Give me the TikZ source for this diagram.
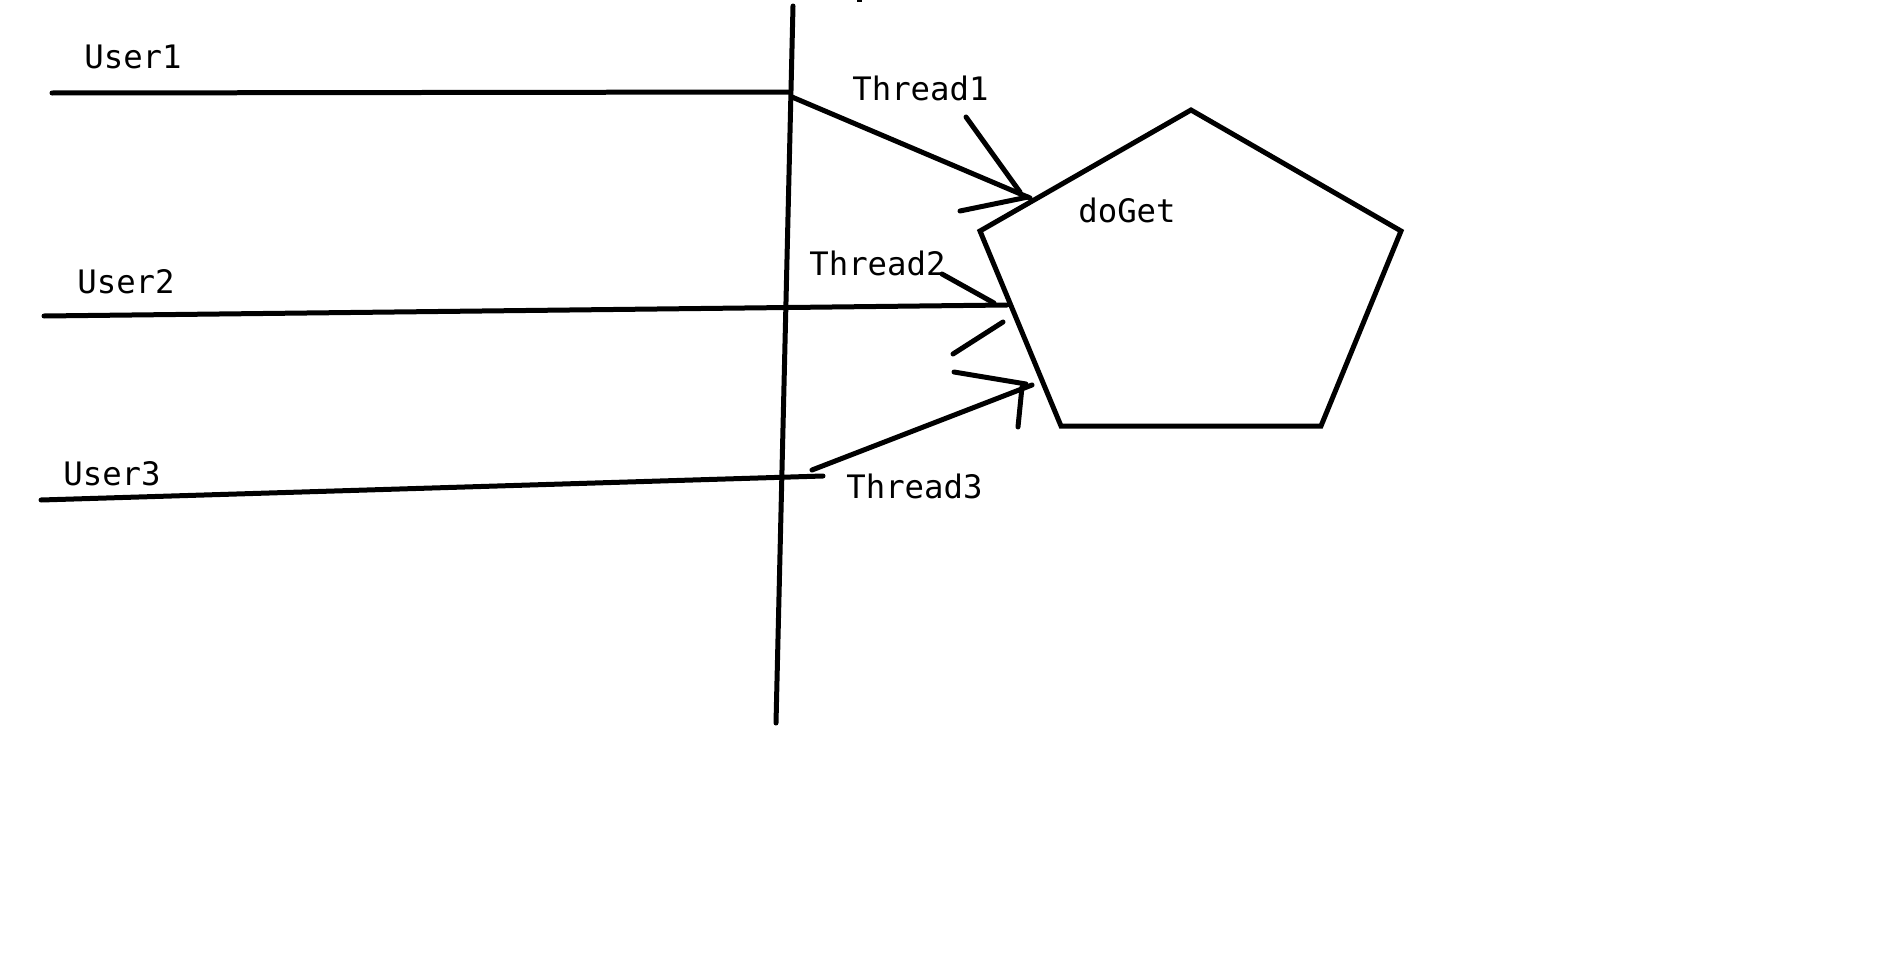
\documentclass[tikz,border=0pt]{standalone}
\usepackage{fontspec}
\setmonofont{DejaVu Sans Mono}
\begin{document}
\begin{tikzpicture}[x=0.02cm,y=-0.02cm,
    pen/.style={black,line width=0.1cm,line cap=round,line join=round},
    lbl/.style={anchor=base west,inner sep=0pt,font=\ttfamily\fontsize{18.4}{22}\selectfont}]
    \useasboundingbox[fill=white] (0,0) rectangle (1901,977);
    % the boundary line
    \coordinate (wallTop) at (793,6);
    \coordinate (wallBot) at (776,723);
    \draw[pen] (wallTop) -- (wallBot);
    \fill (857,0) rectangle (862,2.5);
    % users
    \node[lbl] (user1) at (84,69) {User1};
    \node[lbl] (user2) at (77,293) {User2};
    \node[lbl] (user3) at (63,485) {User3};
    \coordinate (u1a) at (52,93);   \coordinate (u1b) at (790,92);
    \coordinate (u2a) at (44,316);  \coordinate (u2b) at (1007,305);
    \coordinate (u3a) at (41,500);  \coordinate (u3b) at (823,476);
    \draw[pen] (u1a) -- (u1b);
    \draw[pen] (u2a) -- (u2b);
    \draw[pen] (u3a) -- (u3b);
    % the doGet pentagon
    \coordinate (pTop) at (1191,110);
    \coordinate (pRight) at (1401,231);
    \coordinate (pBR) at (1321,426);
    \coordinate (pBL) at (1061,426);
    \coordinate (pLeft) at (980,231);
    \draw[pen,line join=miter] (pTop) -- (pRight) -- (pBR) -- (pBL) -- (pLeft) -- cycle;
    \node[lbl] (doget) at (1078,222.5) {doGet};
    % threads
    \node[lbl] (thread1) at (852,100) {Thread1};
    \node[lbl] (thread2) at (809,275.5) {Thread2};
    \node[lbl] (thread3) at (846,498) {Thread3};
    \coordinate (t1a) at (792,97);   \coordinate (t1b) at (1030,198);
    \coordinate (h1a) at (966,117);  \coordinate (h1b) at (1020,192);
    \coordinate (h1c) at (960,211);  \coordinate (h1d) at (1028,197);
    \draw[pen] (t1a) -- (t1b);
    \draw[pen] (h1a) -- (h1b);
    \draw[pen] (h1c) -- (h1d);
    \coordinate (h2a) at (942,274);  \coordinate (h2b) at (994,303);
    \coordinate (h2c) at (953,354);  \coordinate (h2d) at (1003,322);
    \draw[pen] (h2a) -- (h2b);
    \draw[pen] (h2c) -- (h2d);
    \coordinate (t3a) at (812,470);  \coordinate (t3b) at (1032,385);
    \coordinate (h3a) at (954,372);  \coordinate (h3b) at (1026,384);
    \coordinate (h3c) at (1018,427); \coordinate (h3d) at (1022,387);
    \draw[pen] (t3a) -- (t3b);
    \draw[pen] (h3a) -- (h3b);
    \draw[pen] (h3c) -- (h3d);
\end{tikzpicture}
\end{document}
